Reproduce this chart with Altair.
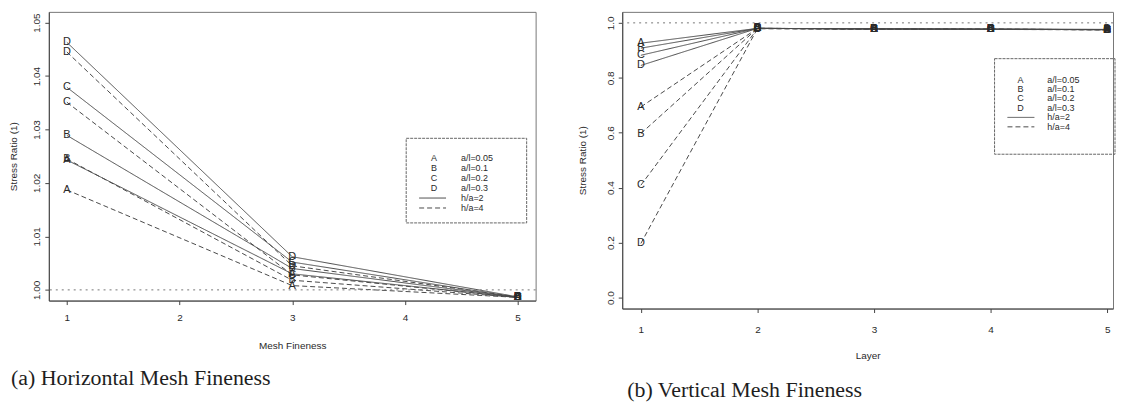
import altair as alt
import pandas as pd

letters = ["A", "B", "C", "D"]
al_labels = ["a/l=0.05", "a/l=0.1", "a/l=0.2", "a/l=0.3"]
ha_labels = ["h/a=2", "h/a=4"]

# Panel (a): horizontal mesh fineness
mesh_x = [1, 3, 5]
mesh_A_ha2 = [1.0243, 1.0030, 0.9986]
mesh_B_ha2 = [1.0289, 1.0040, 0.9986]
mesh_C_ha2 = [1.0379, 1.0052, 0.9986]
mesh_D_ha2 = [1.0463, 1.0062, 0.9987]
mesh_A_ha4 = [1.0187, 1.0008, 0.9986]
mesh_B_ha4 = [1.0245, 1.0018, 0.9986]
mesh_C_ha4 = [1.0351, 1.0028, 0.9986]
mesh_D_ha4 = [1.0445, 1.0045, 0.9987]

# Panel (b): vertical mesh fineness
layer_x = [1, 2, 3, 4, 5]
layer_A_ha2 = [0.926, 0.980, 0.978, 0.977, 0.976]
layer_B_ha2 = [0.908, 0.980, 0.978, 0.977, 0.976]
layer_C_ha2 = [0.882, 0.980, 0.978, 0.977, 0.975]
layer_D_ha2 = [0.845, 0.980, 0.978, 0.977, 0.975]
layer_A_ha4 = [0.694, 0.980, 0.978, 0.977, 0.975]
layer_B_ha4 = [0.597, 0.980, 0.978, 0.977, 0.975]
layer_C_ha4 = [0.409, 0.979, 0.977, 0.976, 0.975]
layer_D_ha4 = [0.197, 0.979, 0.977, 0.976, 0.975]

mesh_ticks_y = [1.00, 1.01, 1.02, 1.03, 1.04, 1.05]
layer_ticks_y = [0.0, 0.2, 0.4, 0.6, 0.8, 1.0]
x_ticks = [1, 2, 3, 4, 5]


def long_df(xs, series):
    rows = []
    for (letter, ha), ys in series.items():
        for x, y in zip(xs, ys):
            rows.append({"x": x, "y": y, "letter": letter, "ha": ha,
                         "series": letter + ha})
    return pd.DataFrame(rows)


df_a = long_df(mesh_x, {
    ("A", "h/a=2"): mesh_A_ha2, ("B", "h/a=2"): mesh_B_ha2,
    ("C", "h/a=2"): mesh_C_ha2, ("D", "h/a=2"): mesh_D_ha2,
    ("A", "h/a=4"): mesh_A_ha4, ("B", "h/a=4"): mesh_B_ha4,
    ("C", "h/a=4"): mesh_C_ha4, ("D", "h/a=4"): mesh_D_ha4,
})
df_b = long_df(layer_x, {
    ("A", "h/a=2"): layer_A_ha2, ("B", "h/a=2"): layer_B_ha2,
    ("C", "h/a=2"): layer_C_ha2, ("D", "h/a=2"): layer_D_ha2,
    ("A", "h/a=4"): layer_A_ha4, ("B", "h/a=4"): layer_B_ha4,
    ("C", "h/a=4"): layer_C_ha4, ("D", "h/a=4"): layer_D_ha4,
})

dummy = pd.DataFrame({"k": [0]})
SANS = "Liberation Sans"
SERIF = "Liberation Serif"
LINE_COL = "#4a4a4a"
TEXT_COL = "#2a2a2a"


def legend_layers(bx0, by0, bx1, by1, letter_x, label_x, line_x0, line_x1, row_y0, row_step):
    layers = [
        alt.Chart(dummy).mark_rect(fillOpacity=0, stroke="#666", strokeWidth=1,
                                   strokeDash=[3, 1]).encode(
            x=alt.value(bx0), x2=alt.value(bx1), y=alt.value(by0), y2=alt.value(by1))
    ]
    for i, (let, lab) in enumerate(zip(letters, al_labels)):
        yy = row_y0 + i * row_step
        layers.append(alt.Chart(dummy).mark_text(
            text=let, font=SANS, fontSize=9, color=TEXT_COL, align="center",
            baseline="middle").encode(x=alt.value(letter_x), y=alt.value(yy)))
        layers.append(alt.Chart(dummy).mark_text(
            text=lab, font=SANS, fontSize=9, color=TEXT_COL, align="left",
            baseline="middle").encode(x=alt.value(label_x), y=alt.value(yy)))
    dashes = [[1, 0], [5, 3]]
    for j, lab in enumerate(ha_labels):
        yy = row_y0 + (4 + j) * row_step
        layers.append(alt.Chart(dummy).mark_rule(
            color=LINE_COL, strokeWidth=1, strokeDash=dashes[j]).encode(
            x=alt.value(line_x0), x2=alt.value(line_x1), y=alt.value(yy)))
        layers.append(alt.Chart(dummy).mark_text(
            text=lab, font=SANS, fontSize=9, color=TEXT_COL, align="left",
            baseline="middle").encode(x=alt.value(label_x), y=alt.value(yy)))
    return layers


def panel(df, xdom, ydom, yticks, yfmt, xtitle, ytitle, lab_pad_x, title_pad_x,
          title_pad_y, width, height, legend, caption, cap_frame, cap_dx, cap_offset):
    xenc = alt.X("x:Q", scale=alt.Scale(domain=xdom, nice=False, zero=False),
                 axis=alt.Axis(values=x_ticks, format="d", title=xtitle,
                               labelPadding=lab_pad_x, titlePadding=title_pad_x,
                               tickSize=4, grid=False))
    yenc = alt.Y("y:Q", scale=alt.Scale(domain=ydom, nice=False, zero=False),
                 axis=alt.Axis(values=yticks, format=yfmt, title=ytitle,
                               labelAngle=270, labelAlign="center",
                               labelBaseline="bottom", labelPadding=3,
                               titlePadding=title_pad_y, tickSize=4, grid=False))
    ref = alt.Chart(dummy).mark_rule(color="#777", strokeDash=[2, 4],
                                     strokeWidth=1).encode(y=alt.datum(1.0))
    lines = alt.Chart(df).mark_line(color=LINE_COL, strokeWidth=1).encode(
        x=xenc, y=yenc, detail="series:N",
        strokeDash=alt.StrokeDash("ha:N", scale=alt.Scale(domain=ha_labels,
                                                          range=[[1, 0], [5, 3]]),
                                  legend=None))
    marks = alt.Chart(df).mark_text(font=SANS, fontSize=11, color=TEXT_COL,
                                    align="center", baseline="middle").encode(
        x="x:Q", y="y:Q", text="letter:N")
    return alt.layer(lines, ref, marks, *legend).properties(
        width=width, height=height,
        title=alt.TitleParams(caption, orient="bottom", anchor="start",
                              frame=cap_frame, font=SERIF, fontSize=22,
                              fontWeight="normal", color="#1e1e1e",
                              offset=cap_offset, dx=cap_dx))


legend_a = legend_layers(359, 127, 480, 212, 387, 414, 372, 399, 147, 10)
legend_b = legend_layers(374, 47, 495, 143, 400, 427, 387, 414, 68, 9.5)

chart_a = panel(df_a, [0.84, 5.16], [0.998, 1.052], mesh_ticks_y, ".2f",
                "Mesh Fineness", "Stress Ratio (1)", 8, 18, 13, 489, 290,
                legend_a, "(a) Horizontal Mesh Fineness", "bounds", 2, 18)
chart_b = panel(df_b, [0.84, 5.05], [-0.04, 1.04], layer_ticks_y, ".1f",
                "Layer", "Stress Ratio (1)", 12, 16, 18, 493, 298,
                legend_b, "(b) Vertical Mesh Fineness", "group", 5, 20)

chart = alt.hconcat(chart_a, chart_b, spacing=40).properties(
    padding={"left": 0, "top": 2, "right": 0, "bottom": 0},
    background="white"
).configure_view(stroke="#777", strokeWidth=1).configure_axis(
    domainColor="#444", tickColor="#444", labelColor=TEXT_COL, titleColor=TEXT_COL,
    labelFont=SANS, titleFont=SANS, labelFontSize=10, titleFontSize=10,
    titleFontWeight="normal", grid=False
)

chart.save("out.html", embed_options={"renderer": "svg", "actions": False})
